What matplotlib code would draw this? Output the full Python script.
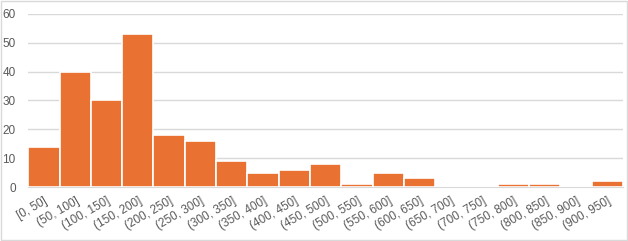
import matplotlib.pyplot as plt
from matplotlib.patches import Rectangle

bins = ["[0, 50]", "(50, 100]", "(100, 150]", "(150, 200]", "(200, 250]",
        "(250, 300]", "(300, 350]", "(350, 400]", "(400, 450]", "(450, 500]",
        "(500, 550]", "(550, 600]", "(600, 650]", "(650, 700]", "(700, 750]",
        "(750, 800]", "(800, 850]", "(850, 900]", "(900, 950]"]
counts = [14, 40, 30, 53, 18, 16, 9, 5, 6, 8, 1, 5, 3, 0, 0, 1, 1, 0, 2]

plt.rcParams["font.family"] = ["Liberation Sans", "DejaVu Sans"]

fig = plt.figure(figsize=(6.28, 2.41), dpi=100)
ax = fig.add_axes([0.045, 0.224, 0.947, 0.718])
# light frame around the whole chart
fig.patches.append(Rectangle((0.002, 0.004), 0.996, 0.992, transform=fig.transFigure,
                             fill=False, edgecolor="#d9d9d9", linewidth=1))

x = range(len(bins))
ax.bar(x, counts, width=1.0, color="#E97132", edgecolor="white", linewidth=1.2, zorder=3)
ax.set_xlim(-0.5, len(bins) - 0.5)
ax.set_ylim(0, 60)
ax.set_yticks(range(0, 61, 10))
ax.grid(axis="y", color="#d9d9d9", linewidth=1, zorder=0)
ax.set_xticks(list(x))
ax.set_xticklabels(bins, rotation=30, ha="right", rotation_mode="anchor")
ax.tick_params(axis="both", length=0, labelsize=8.5, labelcolor="#595959")
ax.tick_params(axis="x", pad=6)
ax.tick_params(axis="y", pad=9)
for s in ["top", "right", "left"]:
    ax.spines[s].set_visible(False)
ax.spines["bottom"].set_color("#d9d9d9")

fig.savefig("out.png", dpi=100)
